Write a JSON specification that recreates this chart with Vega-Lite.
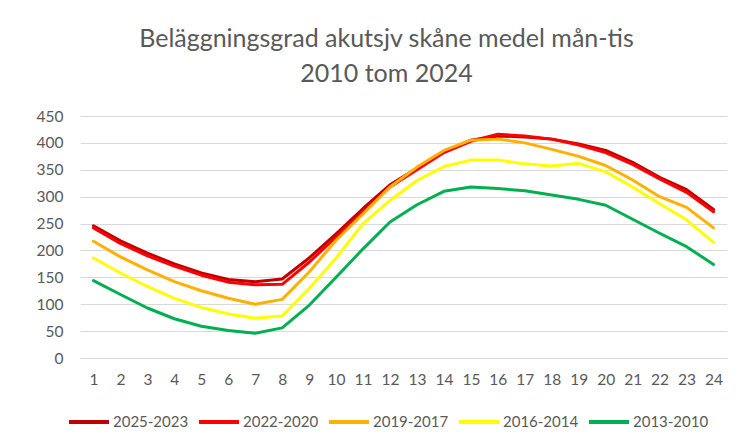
{
  "$schema": "https://vega.github.io/schema/vega-lite/v6.json",
  "width": 647,
  "height": 242,
  "autosize": {"type": "none"},
  "padding": {"left": 80, "top": 116, "right": 11, "bottom": 89},
  "background": "white",
  "title": {
    "text": ["Beläggningsgrad akutsjv skåne medel mån-tis", "2010 tom 2024"],
    "anchor": "middle",
    "dx": -17,
    "offset": 22,
    "fontSize": 25,
    "font": "Lato",
    "fontWeight": "normal",
    "color": "#595959",
    "lineHeight": 35
  },
  "data": {
    "values": [
      {"hour": 1, "serie": "2025-2023", "value": 246},
      {"hour": 2, "serie": "2025-2023", "value": 218},
      {"hour": 3, "serie": "2025-2023", "value": 195},
      {"hour": 4, "serie": "2025-2023", "value": 175},
      {"hour": 5, "serie": "2025-2023", "value": 158},
      {"hour": 6, "serie": "2025-2023", "value": 146},
      {"hour": 7, "serie": "2025-2023", "value": 142},
      {"hour": 8, "serie": "2025-2023", "value": 147},
      {"hour": 9, "serie": "2025-2023", "value": 186},
      {"hour": 10, "serie": "2025-2023", "value": 231},
      {"hour": 11, "serie": "2025-2023", "value": 278},
      {"hour": 12, "serie": "2025-2023", "value": 322},
      {"hour": 13, "serie": "2025-2023", "value": 353},
      {"hour": 14, "serie": "2025-2023", "value": 383},
      {"hour": 15, "serie": "2025-2023", "value": 405},
      {"hour": 16, "serie": "2025-2023", "value": 413},
      {"hour": 17, "serie": "2025-2023", "value": 411},
      {"hour": 18, "serie": "2025-2023", "value": 407},
      {"hour": 19, "serie": "2025-2023", "value": 398},
      {"hour": 20, "serie": "2025-2023", "value": 386},
      {"hour": 21, "serie": "2025-2023", "value": 364},
      {"hour": 22, "serie": "2025-2023", "value": 336},
      {"hour": 23, "serie": "2025-2023", "value": 313},
      {"hour": 24, "serie": "2025-2023", "value": 276},
      {"hour": 1, "serie": "2022-2020", "value": 242},
      {"hour": 2, "serie": "2022-2020", "value": 213},
      {"hour": 3, "serie": "2022-2020", "value": 190},
      {"hour": 4, "serie": "2022-2020", "value": 171},
      {"hour": 5, "serie": "2022-2020", "value": 154},
      {"hour": 6, "serie": "2022-2020", "value": 141},
      {"hour": 7, "serie": "2022-2020", "value": 136},
      {"hour": 8, "serie": "2022-2020", "value": 137},
      {"hour": 9, "serie": "2022-2020", "value": 178},
      {"hour": 10, "serie": "2022-2020", "value": 225},
      {"hour": 11, "serie": "2022-2020", "value": 272},
      {"hour": 12, "serie": "2022-2020", "value": 318},
      {"hour": 13, "serie": "2022-2020", "value": 350},
      {"hour": 14, "serie": "2022-2020", "value": 382},
      {"hour": 15, "serie": "2022-2020", "value": 403},
      {"hour": 16, "serie": "2022-2020", "value": 416},
      {"hour": 17, "serie": "2022-2020", "value": 413},
      {"hour": 18, "serie": "2022-2020", "value": 407},
      {"hour": 19, "serie": "2022-2020", "value": 396},
      {"hour": 20, "serie": "2022-2020", "value": 382},
      {"hour": 21, "serie": "2022-2020", "value": 360},
      {"hour": 22, "serie": "2022-2020", "value": 333},
      {"hour": 23, "serie": "2022-2020", "value": 308},
      {"hour": 24, "serie": "2022-2020", "value": 272},
      {"hour": 1, "serie": "2019-2017", "value": 217},
      {"hour": 2, "serie": "2019-2017", "value": 188},
      {"hour": 3, "serie": "2019-2017", "value": 164},
      {"hour": 4, "serie": "2019-2017", "value": 142},
      {"hour": 5, "serie": "2019-2017", "value": 125},
      {"hour": 6, "serie": "2019-2017", "value": 111},
      {"hour": 7, "serie": "2019-2017", "value": 100},
      {"hour": 8, "serie": "2019-2017", "value": 109},
      {"hour": 9, "serie": "2019-2017", "value": 160},
      {"hour": 10, "serie": "2019-2017", "value": 219},
      {"hour": 11, "serie": "2019-2017", "value": 268},
      {"hour": 12, "serie": "2019-2017", "value": 318},
      {"hour": 13, "serie": "2019-2017", "value": 355},
      {"hour": 14, "serie": "2019-2017", "value": 386},
      {"hour": 15, "serie": "2019-2017", "value": 405},
      {"hour": 16, "serie": "2019-2017", "value": 407},
      {"hour": 17, "serie": "2019-2017", "value": 400},
      {"hour": 18, "serie": "2019-2017", "value": 388},
      {"hour": 19, "serie": "2019-2017", "value": 375},
      {"hour": 20, "serie": "2019-2017", "value": 358},
      {"hour": 21, "serie": "2019-2017", "value": 331},
      {"hour": 22, "serie": "2019-2017", "value": 300},
      {"hour": 23, "serie": "2019-2017", "value": 280},
      {"hour": 24, "serie": "2019-2017", "value": 242},
      {"hour": 1, "serie": "2016-2014", "value": 186},
      {"hour": 2, "serie": "2016-2014", "value": 158},
      {"hour": 3, "serie": "2016-2014", "value": 133},
      {"hour": 4, "serie": "2016-2014", "value": 111},
      {"hour": 5, "serie": "2016-2014", "value": 94},
      {"hour": 6, "serie": "2016-2014", "value": 82},
      {"hour": 7, "serie": "2016-2014", "value": 74},
      {"hour": 8, "serie": "2016-2014", "value": 78},
      {"hour": 9, "serie": "2016-2014", "value": 129},
      {"hour": 10, "serie": "2016-2014", "value": 186},
      {"hour": 11, "serie": "2016-2014", "value": 250},
      {"hour": 12, "serie": "2016-2014", "value": 293},
      {"hour": 13, "serie": "2016-2014", "value": 330},
      {"hour": 14, "serie": "2016-2014", "value": 356},
      {"hour": 15, "serie": "2016-2014", "value": 368},
      {"hour": 16, "serie": "2016-2014", "value": 368},
      {"hour": 17, "serie": "2016-2014", "value": 361},
      {"hour": 18, "serie": "2016-2014", "value": 357},
      {"hour": 19, "serie": "2016-2014", "value": 362},
      {"hour": 20, "serie": "2016-2014", "value": 346},
      {"hour": 21, "serie": "2016-2014", "value": 318},
      {"hour": 22, "serie": "2016-2014", "value": 287},
      {"hour": 23, "serie": "2016-2014", "value": 257},
      {"hour": 24, "serie": "2016-2014", "value": 215},
      {"hour": 1, "serie": "2013-2010", "value": 144},
      {"hour": 2, "serie": "2013-2010", "value": 118},
      {"hour": 3, "serie": "2013-2010", "value": 93},
      {"hour": 4, "serie": "2013-2010", "value": 73},
      {"hour": 5, "serie": "2013-2010", "value": 59},
      {"hour": 6, "serie": "2013-2010", "value": 51},
      {"hour": 7, "serie": "2013-2010", "value": 46},
      {"hour": 8, "serie": "2013-2010", "value": 56},
      {"hour": 9, "serie": "2013-2010", "value": 98},
      {"hour": 10, "serie": "2013-2010", "value": 150},
      {"hour": 11, "serie": "2013-2010", "value": 203},
      {"hour": 12, "serie": "2013-2010", "value": 253},
      {"hour": 13, "serie": "2013-2010", "value": 285},
      {"hour": 14, "serie": "2013-2010", "value": 310},
      {"hour": 15, "serie": "2013-2010", "value": 318},
      {"hour": 16, "serie": "2013-2010", "value": 315},
      {"hour": 17, "serie": "2013-2010", "value": 311},
      {"hour": 18, "serie": "2013-2010", "value": 303},
      {"hour": 19, "serie": "2013-2010", "value": 295},
      {"hour": 20, "serie": "2013-2010", "value": 284},
      {"hour": 21, "serie": "2013-2010", "value": 258},
      {"hour": 22, "serie": "2013-2010", "value": 232},
      {"hour": 23, "serie": "2013-2010", "value": 207},
      {"hour": 24, "serie": "2013-2010", "value": 174}
    ]
  },
  "mark": {"type": "line", "strokeWidth": 3, "strokeJoin": "round", "strokeCap": "round"},
  "encoding": {
    "x": {
      "field": "hour",
      "type": "ordinal",
      "sort": "ascending",
      "scale": {"type": "point", "padding": 0.5},
      "axis": {
        "title": null,
        "labelAngle": 0,
        "ticks": false,
        "domain": true,
        "domainColor": "#D9D9D9",
        "labelPadding": 14,
        "labelFontSize": 15.5,
        "labelFont": "Lato",
        "labelColor": "#595959"
      }
    },
    "y": {
      "field": "value",
      "type": "quantitative",
      "scale": {"domain": [0, 450], "nice": false},
      "axis": {
        "title": null,
        "values": [0, 50, 100, 150, 200, 250, 300, 350, 400, 450],
        "ticks": false,
        "domain": false,
        "grid": true,
        "gridColor": "#D9D9D9",
        "gridWidth": 1,
        "labelPadding": 17,
        "labelFontSize": 15.5,
        "labelFont": "Lato",
        "labelColor": "#595959"
      }
    },
    "color": {
      "field": "serie",
      "type": "nominal",
      "sort": ["2025-2023", "2022-2020", "2019-2017", "2016-2014", "2013-2010"],
      "scale": {
        "domain": ["2025-2023", "2022-2020", "2019-2017", "2016-2014", "2013-2010"],
        "range": ["#C00000", "#FF0000", "#FFB000", "#FFFF00", "#00B050"]
      },
      "legend": {
        "title": null,
        "orient": "none",
        "legendX": -13,
        "legendY": 284,
        "direction": "horizontal",
        "columns": 5,
        "symbolType": "stroke",
        "symbolSize": 1600,
        "symbolStrokeWidth": 4,
        "labelFontSize": 15,
        "labelFont": "Lato",
        "labelColor": "#595959",
        "labelOffset": 2,
        "columnPadding": 2
      }
    }
  },
  "config": {
    "view": {"stroke": null}
  }
}
